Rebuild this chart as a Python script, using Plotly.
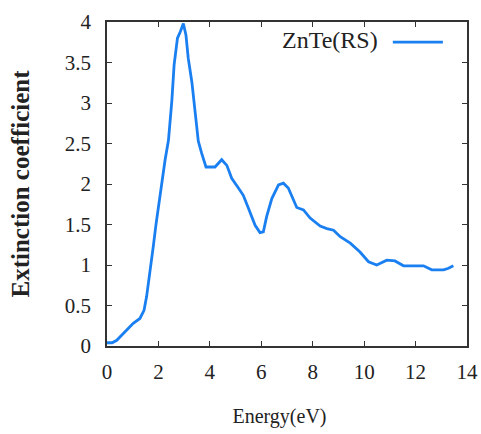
import plotly.graph_objects as go

# Data
energy = [0, 0.2, 0.38, 0.6, 0.77, 1.02, 1.28, 1.44, 1.54, 1.67, 1.80, 1.91, 2.0, 2.13,
          2.26, 2.39, 2.52, 2.61, 2.74, 2.85, 2.97, 3.07, 3.16, 3.30, 3.42, 3.55, 3.68,
          3.85, 4.2, 4.46, 4.66, 4.85, 5.11, 5.30, 5.5, 5.76, 5.95, 6.08, 6.21, 6.41,
          6.67, 6.86, 7.05, 7.25, 7.38, 7.64, 7.9, 8.29, 8.55, 8.81, 9.07, 9.46, 9.84,
          10.17, 10.49, 10.88, 11.2, 11.53, 12.31, 12.63, 13.09, 13.28, 13.47]
extinction = [0.04, 0.04, 0.07, 0.14, 0.2, 0.28, 0.34, 0.44, 0.61, 0.9, 1.23, 1.51, 1.72,
              2.0, 2.3, 2.54, 3.02, 3.47, 3.80, 3.88, 3.98, 3.84, 3.55, 3.26, 2.93, 2.53,
              2.38, 2.21, 2.21, 2.30, 2.23, 2.07, 1.95, 1.86, 1.70, 1.49, 1.40, 1.41, 1.60,
              1.82, 1.99, 2.01, 1.95, 1.80, 1.71, 1.68, 1.58, 1.48, 1.45, 1.43, 1.35, 1.27,
              1.16, 1.04, 1.0, 1.06, 1.05, 0.99, 0.99, 0.94, 0.94, 0.96, 0.99]
series_name = "ZnTe(RS)"
x_ticks = [0, 2, 4, 6, 8, 10, 12, 14]
y_ticks = [0, 0.5, 1, 1.5, 2, 2.5, 3, 3.5, 4]
y_tick_text = ["0", "0.5", "1", "1.5", "2", "2.5", "3", "3.5", "4"]

BLUE = "#1a7ff0"
FONT = "Liberation Serif, Times New Roman, serif"

fig = go.Figure()
fig.add_trace(go.Scatter(x=energy, y=extinction, mode="lines", name=series_name,
                         line=dict(color=BLUE, width=2.8), showlegend=False))

axis_common = dict(showline=True, linecolor="#333", linewidth=1.5, mirror="ticks",
                   ticks="inside", ticklen=5, tickwidth=1.2, tickcolor="#333",
                   showgrid=False, zeroline=False, automargin=False,
                   tickfont=dict(family=FONT, size=21, color="#222"))

fig.update_xaxes(range=[0, 14], tickvals=x_ticks, ticklabelstandoff=6, **axis_common,
                 title=dict(text="Energy(eV)&nbsp;&nbsp;&nbsp;",
                            font=dict(family=FONT, size=20, color="#222"), standoff=26))
fig.update_yaxes(range=[0, 4], tickvals=y_ticks, ticktext=y_tick_text,
                 ticklabelstandoff=10, **axis_common,
                 title=dict(text="<b>Extinction coefficient</b>",
                            font=dict(family=FONT, size=25, color="#222"), standoff=28))

# Legend drawn gnuplot-style: text then line sample
fig.add_annotation(xref="paper", yref="paper", x=0.758, y=0.944, xanchor="right",
                   yanchor="middle", text=series_name, showarrow=False,
                   font=dict(family=FONT, size=24, color="#222"))
fig.add_shape(type="line", xref="paper", yref="paper", x0=0.794, x1=0.933,
              y0=0.938, y1=0.938, line=dict(color=BLUE, width=2.8))

fig.update_layout(width=481, height=434, margin=dict(l=107, r=14, t=22, b=88),
                  plot_bgcolor="white", paper_bgcolor="white")

# remove the page's default body margin and scrollbars so the figure fills the window
fig.write_html("out.html", config={"displayModeBar": False},
               post_script="document.body.style.margin='0';"
                           "document.body.style.overflow='hidden';")
